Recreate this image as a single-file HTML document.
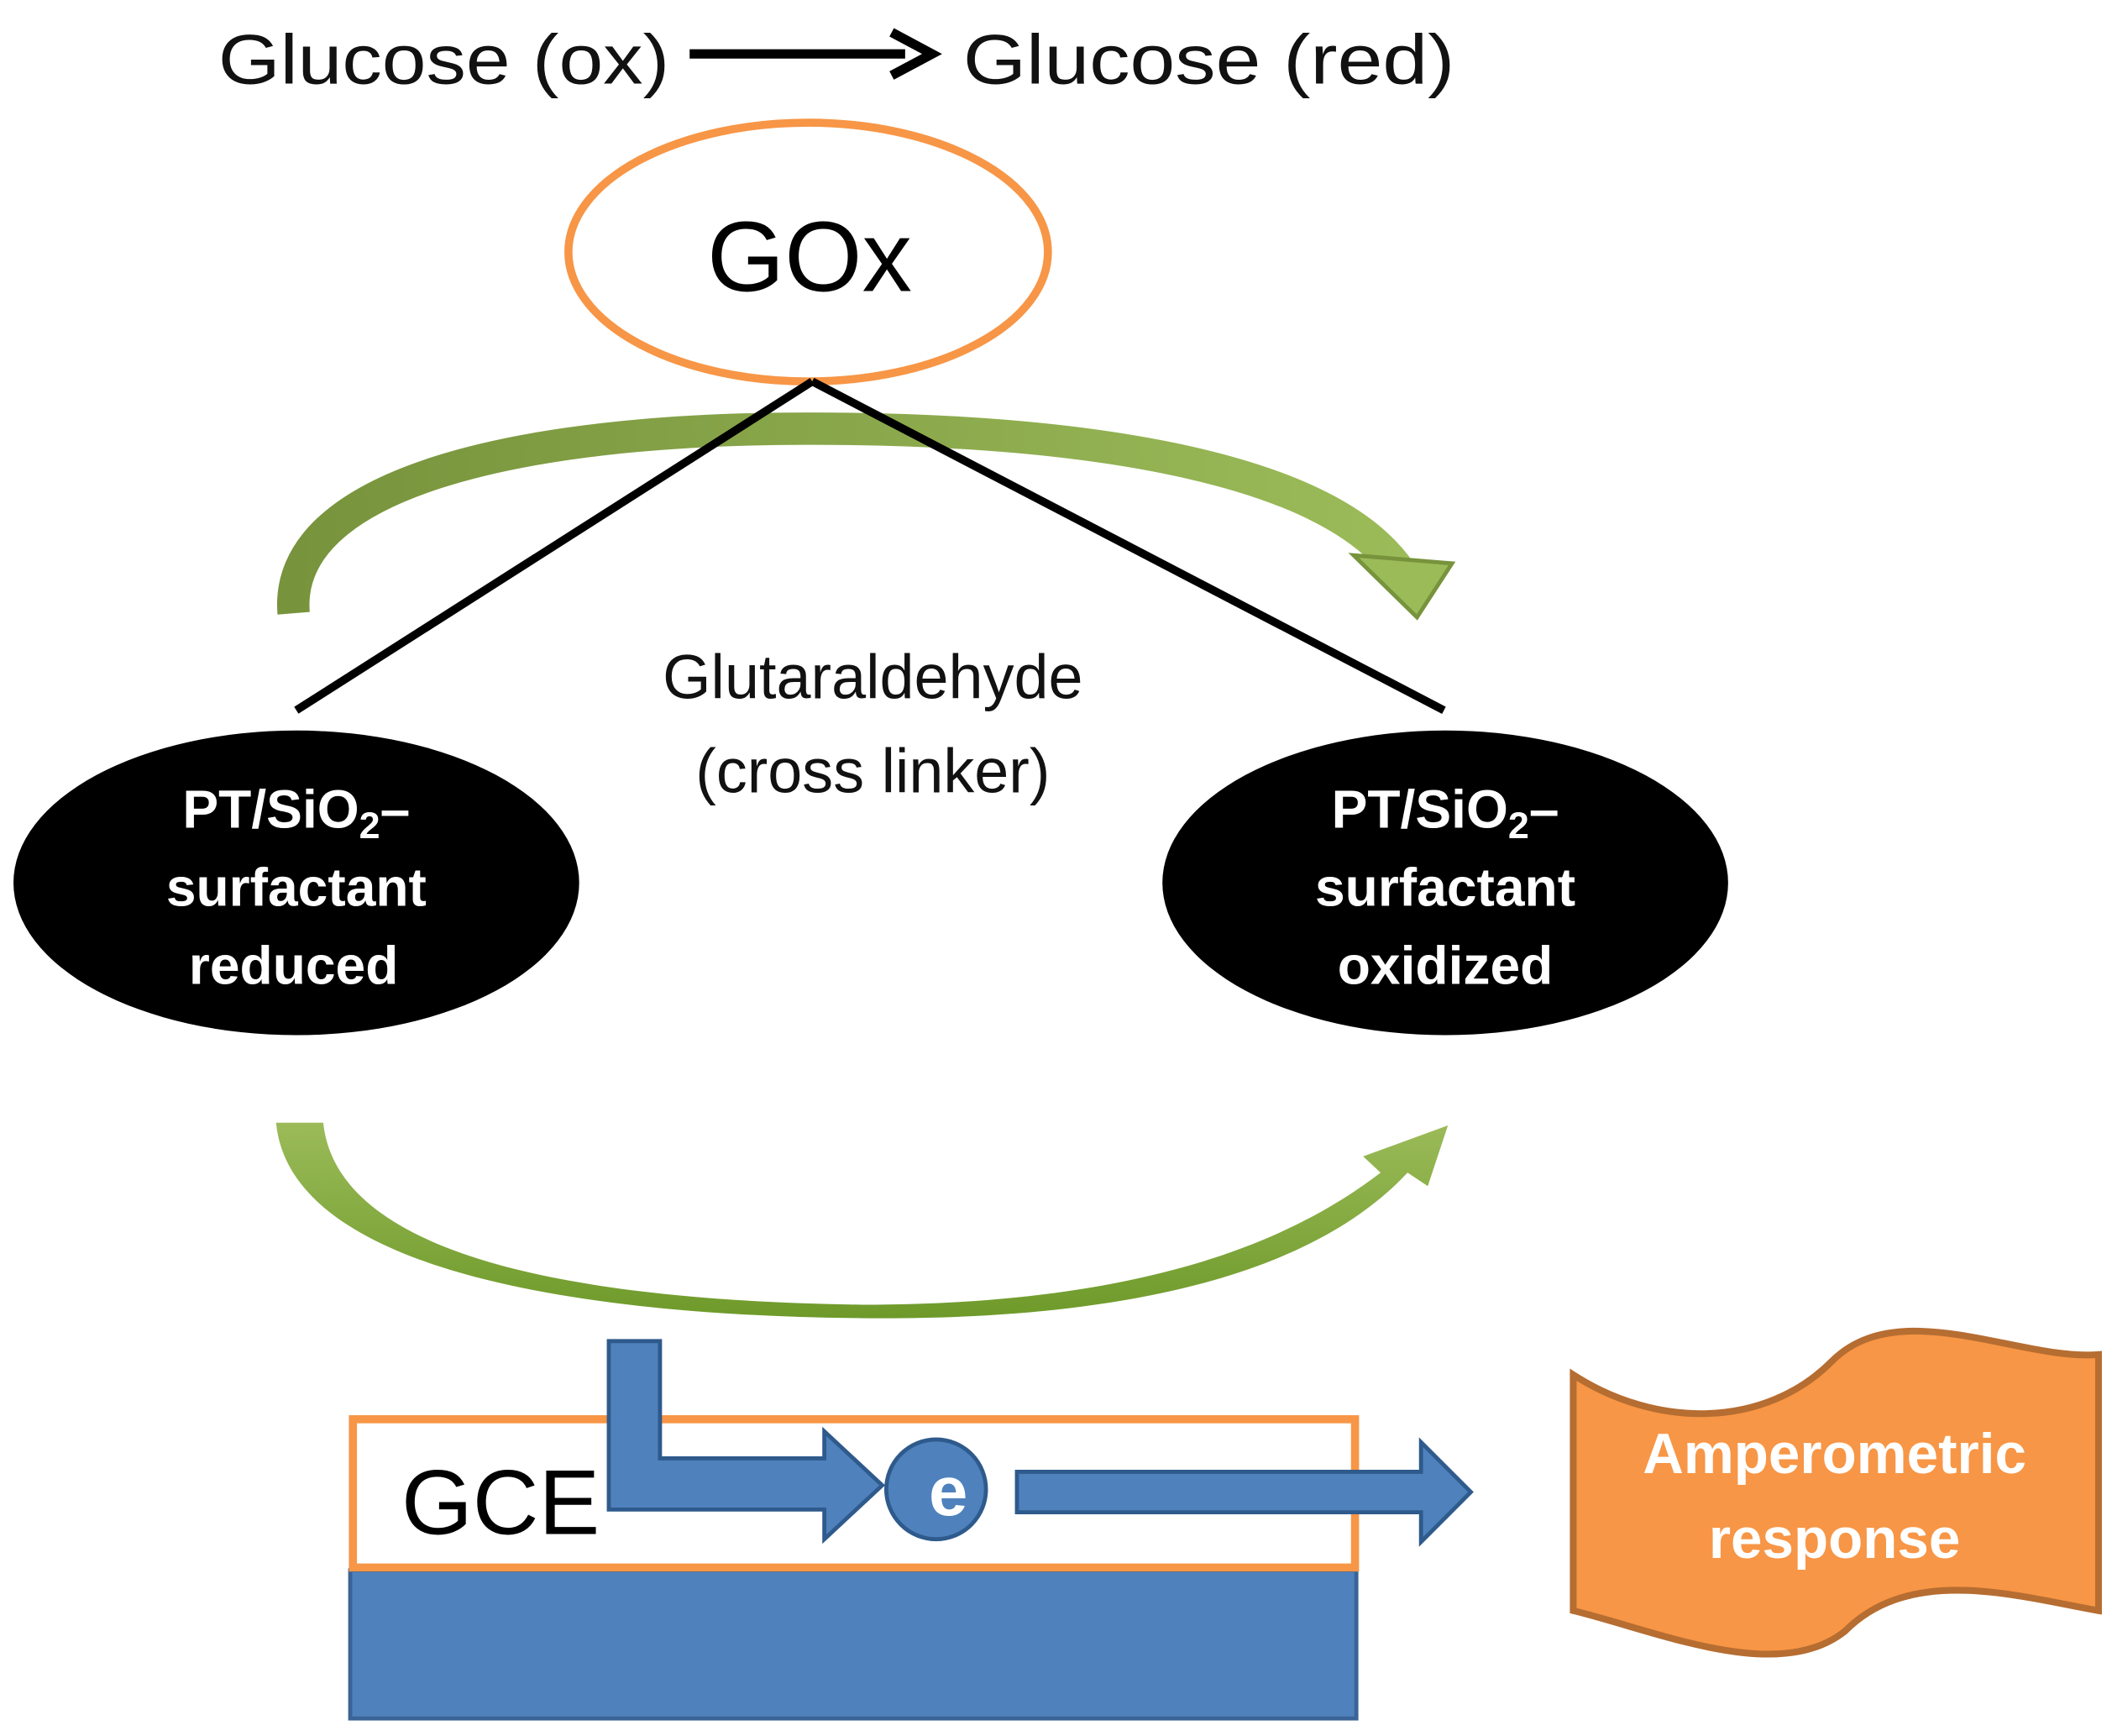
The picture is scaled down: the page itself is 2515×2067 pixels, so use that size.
<!DOCTYPE html>
<html><head><meta charset="utf-8"><style>
html,body{margin:0;padding:0;background:#fff;width:2515px;height:2067px;overflow:hidden}
svg{display:block}
text{font-family:"Liberation Sans",sans-serif}
</style></head><body>
<svg width="2515" height="2067" viewBox="0 0 1568 1288" preserveAspectRatio="none" xmlns="http://www.w3.org/2000/svg">
<defs>
<linearGradient id="g1" x1="0" y1="0" x2="1" y2="0"><stop offset="0" stop-color="#77933C"/><stop offset="1" stop-color="#9BBB59"/></linearGradient>
<linearGradient id="g2" x1="0" y1="0" x2="0" y2="1"><stop offset="0" stop-color="#9BBB59"/><stop offset="1" stop-color="#6E9A2A"/></linearGradient>
</defs>
<text x="162" y="62" font-size="52" fill="#111" textLength="335" lengthAdjust="spacingAndGlyphs">Glucose (ox)</text>
<line x1="512" y1="40" x2="672" y2="40" stroke="#000" stroke-width="7"/>
<polyline points="662,24 692,40 662,56" fill="none" stroke="#000" stroke-width="7"/>
<text x="715" y="62" font-size="52" fill="#111" textLength="365" lengthAdjust="spacingAndGlyphs">Glucose (red)</text>
<ellipse cx="600" cy="187" rx="178" ry="96" fill="#fff" stroke="#F79646" stroke-width="6"/>
<text x="601" y="216" font-size="74" text-anchor="middle" fill="#000">GOx</text>
<path d="M218,455 C210,360 380,318 600,318 C820,318 990,350 1040,425" fill="none" stroke="url(#g1)" stroke-width="24"/>
<polygon points="1005,412 1078,418 1052,458" fill="#9BBB59" stroke="#77933C" stroke-width="3"/>
<line x1="603" y1="283" x2="220" y2="527" stroke="#000" stroke-width="6"/>
<line x1="603" y1="283" x2="1072" y2="527" stroke="#000" stroke-width="6"/>
<text x="648" y="518" font-size="46" text-anchor="middle" fill="#111">Glutaraldehyde</text>
<text x="648" y="588" font-size="46" text-anchor="middle" fill="#111">(cross linker)</text>
<ellipse cx="220" cy="655" rx="210" ry="113" fill="#000"/>
<ellipse cx="1073" cy="655" rx="210" ry="113" fill="#000"/>
<g fill="#fff" font-size="40" font-weight="bold" text-anchor="middle">
<text x="220" y="614">PT/SiO<tspan font-size="28" dy="8">2</tspan><tspan dy="-8">–</tspan></text>
<text x="220" y="672">surfactant</text>
<text x="218" y="730">reduced</text>
<text x="1073" y="614">PT/SiO<tspan font-size="28" dy="8">2</tspan><tspan dy="-8">–</tspan></text>
<text x="1073" y="672">surfactant</text>
<text x="1073" y="730">oxidized</text>
</g>
<path d="M205,833 L240,833 C250,930 420,965 640,968 C850,968 960,920 1025,870 L1012,858 L1075,835 L1060,880 L1045,870 C980,940 850,980 640,978 C420,976 215,940 205,833 Z" fill="url(#g2)"/>
<rect x="260" y="1165" width="747" height="110" fill="#4F81BD" stroke="#3A6396" stroke-width="3"/>
<rect x="262" y="1053" width="744" height="110" fill="#fff" stroke="#F79646" stroke-width="6"/>
<text x="298" y="1138" font-size="68" fill="#000">GCE</text>
<path d="M452,995 L490,995 L490,1082 L612,1082 L612,1062 L655,1102 L612,1142 L612,1120 L452,1120 Z" fill="#4F81BD" stroke="#2E5A8C" stroke-width="3"/>
<circle cx="695" cy="1105" r="37" fill="#4F81BD" stroke="#2E5A8C" stroke-width="3"/>
<text x="704" y="1124" font-size="52" font-weight="bold" fill="#fff" text-anchor="middle">e</text>
<path d="M755,1092 L1055,1092 L1055,1070 L1092,1107 L1055,1144 L1055,1122 L755,1122 Z" fill="#4F81BD" stroke="#2E5A8C" stroke-width="3"/>
<path d="M1168,1020 C1230,1060 1310,1060 1360,1010 C1410,960 1500,1010 1558,1005 L1558,1195 C1500,1185 1420,1160 1370,1210 C1320,1250 1230,1210 1168,1195 Z" fill="#F79646" stroke="#B66D31" stroke-width="5"/>
<text x="1362" y="1093" font-size="42" font-weight="bold" fill="#fff" text-anchor="middle">Amperometric</text>
<text x="1362" y="1156" font-size="42" font-weight="bold" fill="#fff" text-anchor="middle">response</text>
</svg>
</body></html>
